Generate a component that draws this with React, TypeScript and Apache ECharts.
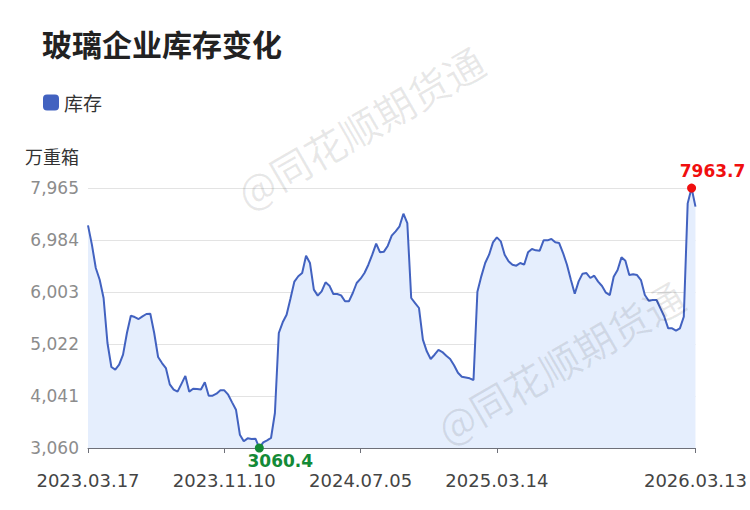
import React, { useEffect, useRef } from 'react';
import * as echarts from 'echarts';

const seriesName = '库存';
const chartTitle = '玻璃企业库存变化';
const unitName = '万重箱';
const watermarkText = '@同花顺期货通';

// weekly inventory (万重箱)
const inventory = [
  7260, 6896, 6456, 6235, 5890, 5041, 4588, 4538, 4632, 4821,
  5229, 5556, 5531, 5493, 5544, 5588, 5594, 5229, 4777, 4663,
  4569, 4260, 4160, 4123, 4270, 4420, 4123, 4179, 4175, 4165,
  4300, 4047, 4047, 4085, 4148, 4148, 4066, 3921, 3783, 3312,
  3186, 3242, 3230, 3236, 3060.4, 3167, 3205, 3249, 3720, 5229,
  5431, 5575, 5880, 6200, 6300, 6361, 6688, 6550, 6047, 5934,
  6015, 6185, 6122, 5965, 5965, 5940, 5827, 5827, 5984, 6173,
  6254, 6361, 6518, 6707, 6915, 6751, 6764, 6877, 7066, 7147,
  7242, 7480, 7304, 5890, 5795, 5701, 5104, 4884, 4739, 4820,
  4910, 4870, 4800, 4740, 4620, 4480, 4405, 4390, 4375, 4343,
  6009, 6298, 6550, 6707, 6940, 7034, 6959, 6707, 6581, 6518,
  6500, 6550, 6518, 6751, 6814, 6789, 6783, 6977, 6977, 7003,
  6940, 6927, 6738, 6518, 6235, 5971, 6204, 6349, 6361, 6267,
  6311, 6198, 6116, 5990, 5946, 6292, 6418, 6657, 6594, 6323,
  6336, 6323, 6229, 5946, 5839, 5852, 5852, 5695, 5537, 5317,
  5317, 5273, 5317, 5537, 7675, 7963.7, 7613,
];

const dateLabels = ['2023.03.17', '2023.11.10', '2024.07.05', '2025.03.14', '2026.03.13'];
const labelIndex = [0, 35, 70, 105, 156];
const yTicks = [3060, 4041, 5022, 6003, 6984, 7965];
const categories = inventory.map((_, i) => String(i));

export default function App() {
  const ref = useRef<HTMLDivElement>(null);
  useEffect(() => {
    document.body.style.margin = '0';
    const chart = echarts.init(ref.current!, null, { renderer: 'svg' });
    const num = "'DejaVu Sans', 'Noto Sans CJK SC', sans-serif";
    const cjk = "'Noto Sans CJK SC', sans-serif";
    const showIdx = (i: number) => labelIndex.includes(i);
    chart.setOption({
      animation: false,
      backgroundColor: '#ffffff',
      title: {
        text: chartTitle,
        left: 37,
        top: 23,
        textStyle: { fontFamily: cjk, fontSize: 30, fontWeight: 'bold', color: '#222222' },
      },
      legend: {
        left: 38,
        top: 88,
        itemWidth: 16,
        itemHeight: 16,
        icon: 'roundRect',
        data: [seriesName],
        textStyle: { fontFamily: cjk, fontSize: 19, color: '#333333' },
      },
      grid: { left: 88, right: 50, top: 188, bottom: 62 },
      graphic: [
        {
          type: 'text',
          x: 360,
          y: 127,
          rotation: Math.PI / 6,
          z: 100,
          style: {
            text: watermarkText,
            font: "40px 'Noto Sans CJK SC'",
            fill: 'rgba(0,0,0,0.09)',
            align: 'center',
            verticalAlign: 'middle',
          },
        },
        {
          type: 'text',
          x: 560,
          y: 362,
          rotation: Math.PI / 6,
          z: 100,
          style: {
            text: watermarkText,
            font: "40px 'Noto Sans CJK SC'",
            fill: 'rgba(0,0,0,0.09)',
            align: 'center',
            verticalAlign: 'middle',
          },
        },
      ],
      xAxis: {
        type: 'category',
        data: categories,
        boundaryGap: false,
        axisLine: { lineStyle: { color: '#6e7079' } },
        axisTick: { interval: showIdx, length: 5 },
        axisLabel: {
          interval: showIdx,
          formatter: (_v: string, i: number) => dateLabels[labelIndex.indexOf(i)] ?? '',
          color: '#444444',
          fontFamily: num,
          fontSize: 18,
          lineHeight: 16,
          margin: 24,
        },
        splitLine: { show: false },
      },
      yAxis: {
        type: 'value',
        min: 3060,
        max: 7965,
        name: unitName,
        nameLocation: 'end',
        nameGap: 23,
        nameTextStyle: {
          fontFamily: cjk,
          fontSize: 18,
          color: '#333333',
          align: 'right',
          padding: [0, 9, 0, 0],
        },
        axisLine: { show: false },
        axisTick: { show: false, customValues: yTicks },
        axisLabel: {
          customValues: yTicks,
          formatter: (v: number) => v.toLocaleString('en-US'),
          color: '#8c8c8c',
          fontFamily: num,
          fontSize: 17,
          margin: 9,
        },
        splitLine: { lineStyle: { color: '#e3e3e3' } },
      },
      series: [
        {
          name: seriesName,
          type: 'line',
          data: inventory,
          symbol: 'none',
          lineStyle: { color: '#4262c0', width: 2 },
          itemStyle: { color: '#4262c0' },
          areaStyle: { color: '#e5eefd', opacity: 1 },
          markPoint: {
            symbol: 'circle',
            symbolSize: 9,
            label: {
              show: true,
              fontFamily: num,
              fontWeight: 'bold',
              fontSize: 17,
              lineHeight: 14,
              formatter: '{c}',
            },
            data: [
              {
                type: 'max',
                itemStyle: { color: '#f00f0f' },
                label: { position: 'top', color: '#f00f0f', offset: [21, -1] },
              },
              {
                type: 'min',
                itemStyle: { color: '#138a36' },
                label: { position: 'bottom', color: '#138a36', offset: [21, -3] },
              },
            ],
          },
        },
      ],
    });
    return () => chart.dispose();
  }, []);
  return <div ref={ref} style={{ width: 750, height: 510 }} />;
}
